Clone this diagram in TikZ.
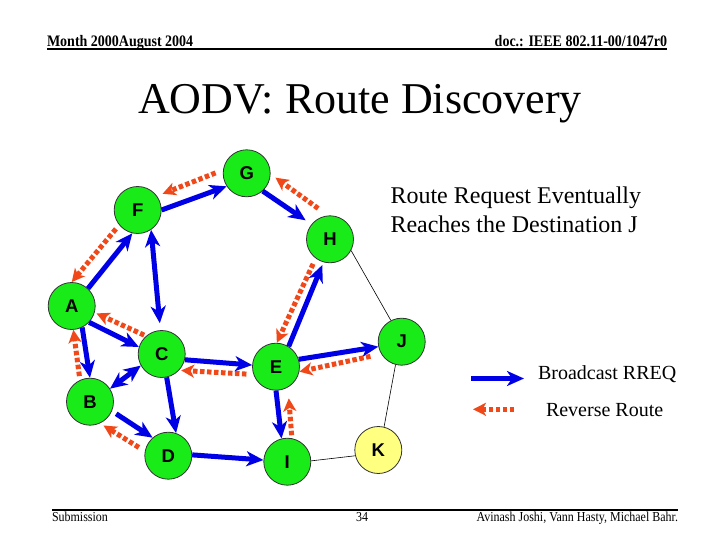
\documentclass[tikz,border=0pt]{standalone}
\usepackage{fontspec}
\setmainfont{Liberation Serif}
\setsansfont{Liberation Sans}
\newfontfamily\slidefont{Liberation Serif}[FakeStretch=0.875]
\usetikzlibrary{arrows.meta,positioning,calc}

\definecolor{nodegreen}{RGB}{25,235,25}
\definecolor{rreqblue}{RGB}{0,0,230}
\definecolor{revred}{RGB}{240,72,24}
\definecolor{destyellow}{RGB}{255,255,128}

\begin{document}
\begin{tikzpicture}[x=1pt, y=-1pt,
  nd/.style={draw=black!80, line width=0.8pt, circle, fill=nodegreen, minimum size=47pt,
    inner sep=0pt, font=\sffamily\bfseries\fontsize{18.5}{18.5}\selectfont},
  bcast/.style={draw=rreqblue, line width=5pt, -{Stealth[length=17pt,width=15pt,inset=5pt]}},
  bboth/.style={draw=rreqblue, line width=5pt,
    {Stealth[length=17pt,width=15pt,inset=5pt]}-{Stealth[length=17pt,width=15pt,inset=5pt]}},
  rev/.style={draw=revred, line width=5pt, dash pattern=on 4.5pt off 2.5pt,
    -{Stealth[length=13pt,width=13pt,inset=3.5pt]}},
  link/.style={draw=black, line width=0.6pt},
  txt/.style={inner sep=0pt, outer sep=0pt}
]
  \useasboundingbox (0,0) rectangle (720,540);

  % slide header and footer
  \node[txt, anchor=base west, font=\slidefont\bfseries\fontsize{16}{16}\selectfont] (month) at (47,46.5) {Month 2000August 2004};
  \node[txt, anchor=base east, font=\slidefont\bfseries\fontsize{16}{16}\selectfont] (doc) at (667,46.5) {doc.: IEEE 802.11-00/1047r0};
  \draw[line width=2pt] ([yshift=-2.5pt]month.base west) -- ([yshift=-2.5pt]doc.base east);

  \node[txt, anchor=base west, font=\slidefont\fontsize{13.7}{14}\selectfont] (subm) at (52,521.5) {Submission};
  \node[txt, anchor=base, font=\slidefont\fontsize{13.7}{14}\selectfont] (page) at (362,521.5) {34};
  \node[txt, anchor=base east, font=\slidefont\fontsize{13.7}{14}\selectfont] (auth) at (678,521.5) {Avinash Joshi, Vann Hasty, Michael Bahr.};
  \draw[line width=2pt] ([yshift=12pt]subm.base west) -- ([yshift=12pt]auth.base east);

  \node[txt, anchor=base, font=\fontsize{44}{44}\selectfont] (title) at (360,114) {AODV: Route Discovery};

  \node[txt, anchor=base west, font=\fontsize{24}{24}\selectfont] (msga) at (390.5,203.5) {Route Request Eventually};
  \node[txt, anchor=base west, font=\fontsize{24}{24}\selectfont] (msgb) at ([yshift=-29pt]msga.base west) {Reaches the Destination J};

  % network nodes
  \node[nd] (G) at (246.7,173.3) {G};
  \node[nd] (F) at (137.7,210)   {F};
  \node[nd] (H) at (330,239.3)   {H};
  \node[nd] (A) at (71.7,306)    {A};
  \node[nd] (C) at (161.7,354)   {C};
  \node[nd] (B) at (90,401.7)    {B};
  \node[nd] (D) at (168.3,455.7) {D};
  \node[nd] (E) at (276,366.7)   {E};
  \node[nd] (J) at (401.7,341.7) {J};
  \node[nd] (I) at (287.3,461.7) {I};
  \node[nd, fill=destyellow] (K) at (378.3,450) {K};

  % plain links
  \draw[link] (H.332) -- (J.117);
  \draw[link] (J.255) -- (K.76);
  \draw[link] (I.2) -- (K.194);

  % broadcast RREQ
  \draw[bcast] (A.47) -- (F.257);
  \draw[bcast] (F.0) -- (G.213);
  \draw[bcast, shorten >=7pt] (G.312) -- (H.141);
  \draw[bboth, shorten >=7pt] (F.304) -- (C.93);
  \draw[bcast] (A.317) -- (C.163);
  \draw[bcast] (A.296) -- (B.90);
  \draw[bboth] (B.33) -- (C.209);
  \draw[bcast, shorten <=5pt] (B.337) -- (D.131);
  \draw[bcast] (C.282) -- (D.71);
  \draw[bcast] (C.346) -- (E.176);
  \draw[bcast] (E.18) -- (J.192);
  \draw[bcast, shorten >=3pt] (E.58) -- (H.254);
  \draw[bcast] (E.270) -- (I.104);
  \draw[bcast] (D.2) -- (I.176);

  % reverse route
  \draw[rev, shorten <=8pt, shorten >=6pt] (G.172) -- (F.36);
  \draw[rev, shorten <=12pt, shorten >=6pt] (H.95) -- (G.358);
  \draw[rev, shorten <=5pt] (F.219) -- (A.90);
  \draw[rev, shorten <=2pt, shorten >=2pt] (C.131) -- (A.344);
  \draw[rev, shorten <=4pt] (B.115) -- (A.274);
  \draw[rev, shorten <=7pt, shorten >=2pt] (E.199) -- (C.317);
  \draw[rev, shorten <=11pt] (J.211) -- (E.348);
  \draw[rev, shorten <=6pt] (H.233) -- (E.88);
  \draw[rev, shorten <=3pt, shorten >=11pt] (I.79) -- (E.300);
  \draw[rev, shorten <=7pt, shorten >=4pt] (D.169) -- (B.295);

  % legend
  \node[txt, anchor=base west, font=\fontsize{20}{20}\selectfont] (lgb) at (538,379.5) {Broadcast RREQ};
  \node[txt, anchor=base west, font=\fontsize{20}{20}\selectfont] (lgr) at (546,416.7) {Reverse Route};
  \draw[bcast] ([xshift=-67pt,yshift=1pt]lgb.base west) -- ([xshift=-14pt,yshift=1pt]lgb.base west);
  \draw[rev] ([xshift=-32pt,yshift=7.4pt]lgr.base west) -- ([xshift=-73pt,yshift=7.4pt]lgr.base west);
\end{tikzpicture}
\end{document}
